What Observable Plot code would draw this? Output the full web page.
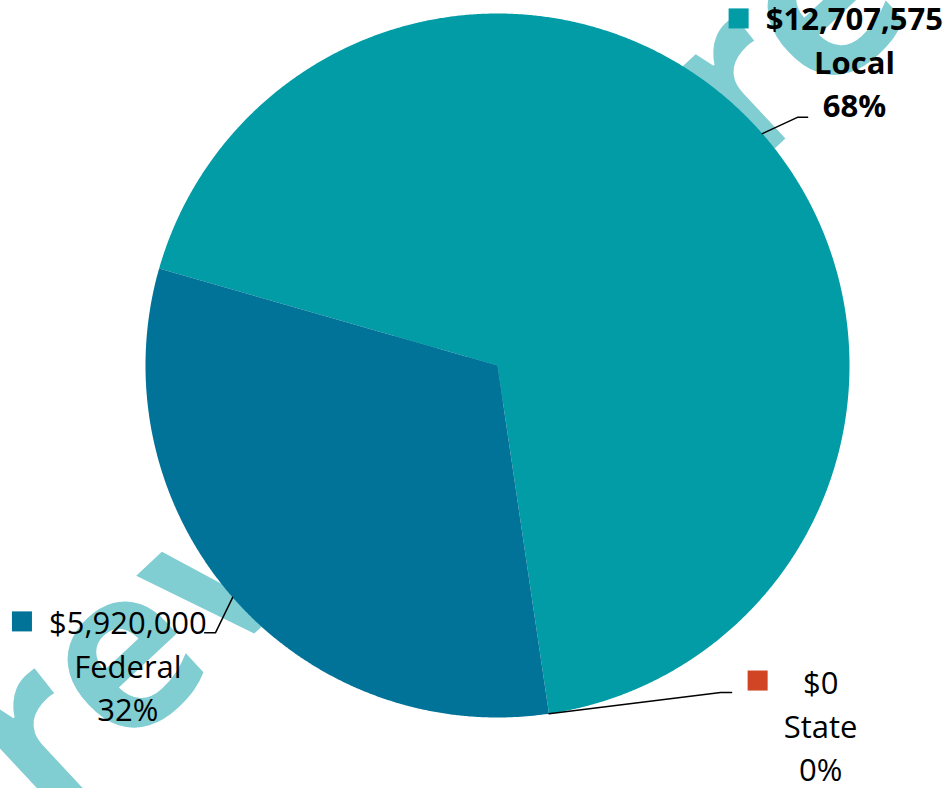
<!DOCTYPE html>
<html>
<head>
<meta charset="utf-8">
<script src="https://cdn.jsdelivr.net/npm/d3@7"></script>
<script src="https://cdn.jsdelivr.net/npm/@observablehq/plot@0.6"></script>
<style>
  html, body { margin: 0; padding: 0; background: #fff; }
  #chart { width: 951px; height: 788px; overflow: hidden; }
</style>
</head>
<body>
<div id="chart"></div>
<script>
// ---- data ----
const categories = ["Local", "State", "Federal"];
const values = [12707575, 0, 5920000];
const colors = ["#019ca6", "#d14524", "#017298"];
const watermarkText = "Preview Preview";

// ---- layout (unit-radius coordinates relative to the pie) ----
const startAngleDeg = -74;
const labelCenter = {Local: [1.014, 0.868], State: [0.918, -1.018], Federal: [-1.050, -0.848]};
const markerPos = {Local: [0.685, 0.986], State: [0.739, -0.895], Federal: [-1.351, -0.727]};
const leaderElbow = {Local: [[0.852, 0.705], [0.881, 0.705]], State: [[0.634, -0.929], [0.665, -0.929]], Federal: [[-0.801, -0.759], [-0.832, -0.759]]};
const boldLabel = {Local: true, State: false, Federal: false};
const watermarkPos = [-1.710, -1.432];

const total = d3.sum(values);
const fmt = d3.format("$,");
const start = startAngleDeg * Math.PI / 180;
const arcs = d3.pie().sort(null).startAngle(start).endAngle(start + 2 * Math.PI)(values);

// slice polygons
const slicePts = [];
arcs.forEach((a, i) => {
  if (a.endAngle - a.startAngle <= 0) return;
  const cat = categories[i];
  slicePts.push({category: cat, x: 0, y: 0});
  const n = Math.max(2, Math.ceil((a.endAngle - a.startAngle) / (Math.PI / 720)));
  for (let k = 0; k <= n; k++) {
    const t = a.startAngle + (a.endAngle - a.startAngle) * k / n;
    slicePts.push({category: cat, x: Math.sin(t), y: Math.cos(t)});
  }
  slicePts.push({category: cat, x: 0, y: 0});
});

// labels
const labels = arcs.map((a, i) => {
  const cat = categories[i];
  const pct = Math.round(values[i] / total * 100) + "%";
  return {category: cat, x: labelCenter[cat][0], y: labelCenter[cat][1],
          text: fmt(values[i]) + "\n" + cat + "\n" + pct,
          mx: markerPos[cat][0], my: markerPos[cat][1], bold: boldLabel[cat]};
});

// leader lines: from slice mid-angle on the circle to elbow points
const leaders = [];
arcs.forEach((a, i) => {
  const cat = categories[i];
  const mid = (a.startAngle + a.endAngle) / 2;
  leaders.push({category: cat, x: Math.sin(mid), y: Math.cos(mid)});
  leaderElbow[cat].forEach(p => leaders.push({category: cat, x: p[0], y: p[1]}));
});

const chart = Plot.plot({
  width: 951,
  height: 788,
  margin: 0,
  style: {background: "transparent", fontFamily: "'Open Sans', sans-serif", overflow: "hidden"},
  x: {domain: [-1, 1], range: [145, 849], axis: null},
  y: {domain: [-1, 1], range: [717, 13], axis: null},
  color: {domain: categories, range: colors},
  marks: [
    Plot.text([{x: watermarkPos[0], y: watermarkPos[1], t: watermarkText}], {
      x: "x", y: "y", text: "t", rotate: -43, textAnchor: "start",
      fontSize: 225, fontWeight: 700, fill: "#80cdd2", fontFamily: "'Open Sans', sans-serif"
    }),
    Plot.line(slicePts, {x: "x", y: "y", z: "category", fill: "category", stroke: "none", curve: "linear"}),
    Plot.line(leaders, {x: "x", y: "y", z: "category", stroke: "#000", strokeWidth: 1.5, curve: "linear"}),
    Plot.dot(labels, {x: "mx", y: "my", symbol: "square", r: 11.3, fill: "category", stroke: "none"}),
    Plot.text(labels.filter(d => d.bold), {x: "x", y: "y", text: "text", fontSize: 31, fontWeight: 700,
      lineHeight: 1.4, lineAnchor: "middle", textAnchor: "middle", fill: "#000"}),
    Plot.text(labels.filter(d => !d.bold), {x: "x", y: "y", text: "text", fontSize: 31, fontWeight: 400,
      lineHeight: 1.4, lineAnchor: "middle", textAnchor: "middle", fill: "#000"})
  ]
});
document.getElementById("chart").appendChild(chart);
</script>
</body>
</html>
